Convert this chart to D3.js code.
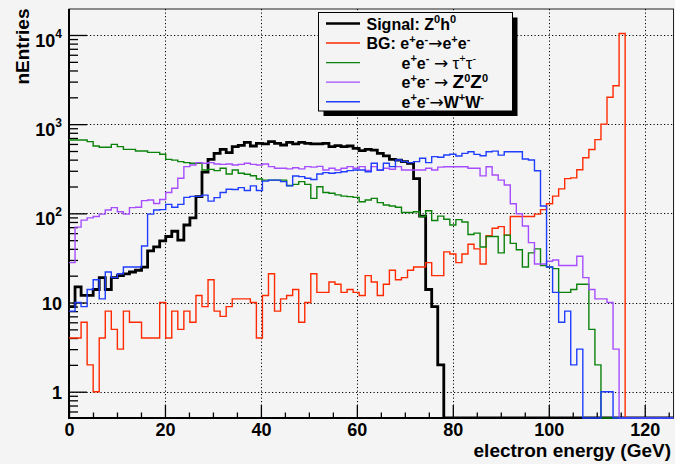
<!DOCTYPE html>
<html>
<head>
<meta charset="utf-8">
<script src="https://cdn.jsdelivr.net/npm/d3@7"></script>
<style>
  html, body { margin: 0; padding: 0; background: #f4f4f4; }
  svg { display: block; }
</style>
</head>
<body>
<script>
// Histogram binning: 100 bins over 0-126 GeV
const binLow = 0;
const binHigh = 126;
const nBins = 100;

// Bin contents (entries per bin)
const signalZh = [
  9, 15, 12, 12, 14, 19, 14, 19, 20, 21,
  22, 23, 25, 38, 42, 49, 55, 63, 50, 74,
  89, 154, 290, 403, 471, 522, 480, 560, 579, 626,
  569, 610, 600, 637, 610, 584, 626, 600, 626, 610,
  600, 600, 610, 560, 576, 560, 569, 536, 505, 522,
  512, 471, 440, 403, 396, 380, 364, 245, 93, 14,
  9, 2, 0, 0, 0, 0, 0, 0, 0, 0,
  0, 0, 0, 0, 0, 0, 0, 0, 0, 0,
  0, 0, 0, 0, 0, 0, 0, 0, 0, 0,
  0, 0, 0, 0, 0, 0, 0, 0, 0, 0
];
const bgEE = [
  4, 4, 6, 2, 1, 4, 8, 5, 3, 8,
  6, 6, 4, 4, 4, 10, 4, 8, 5, 8,
  6, 12, 9, 18, 8, 7, 9, 11, 11, 11,
  10, 4, 12, 21, 8, 11, 12, 14, 6, 10,
  21, 13, 13, 17, 16, 13, 14, 13, 12, 20,
  17, 12, 16, 23, 18, 19, 23, 25, 25, 28,
  20, 20, 37, 35, 28, 35, 45, 40, 27, 56,
  68, 71, 57, 92, 92, 92, 92, 98, 110, 128,
  156, 188, 245, 250, 308, 420, 520, 670, 1000, 2000,
  2700, 10400, 0, 0, 0, 0, 0, 0, 0, 0
];
const bgTauTau = [
  664, 664, 664, 637, 569, 550, 550, 594, 560, 522,
  522, 500, 500, 483, 483, 459, 403, 395, 380, 370,
  364, 364, 306, 311, 301, 320, 276, 306, 281, 274,
  264, 243, 236, 236, 236, 236, 205, 211, 227, 211,
  147, 199, 171, 168, 161, 156, 154, 151, 135, 141,
  147, 132, 124, 121, 117, 102, 102, 104, 92, 107,
  83, 93, 86, 74, 85, 80, 58, 60, 42, 55,
  55, 36, 57, 46, 39, 25, 36, 40, 26, 25,
  24, 13, 13, 14, 16, 16, 5, 2, 0, 0,
  0, 0, 0, 0, 0, 0, 0, 0, 0, 0
];
const bgZZ = [
  28, 70, 84, 89, 92, 98, 109, 116, 104, 98,
  116, 117, 139, 141, 129, 143, 171, 191, 247, 334,
  348, 370, 364, 370, 357, 354, 357, 348, 354, 364,
  354, 348, 357, 334, 320, 320, 315, 325, 315, 334,
  330, 336, 306, 320, 306, 320, 334, 320, 334, 303,
  334, 303, 320, 312, 334, 306, 306, 306, 306, 320,
  306, 330, 333, 333, 333, 333, 320, 320, 263, 333,
  269, 236, 208, 128, 99, 72, 47, 27, 27, 29,
  30, 26, 26, 26, 33, 19, 14, 11, 11, 10,
  3, 0, 0, 0, 0, 0, 0, 0, 0, 0
];
const bgWW = [
  8, 10, 9, 14, 18, 11, 22, 19, 21, 25,
  25, 25, 43, 98, 109, 110, 126, 117, 126, 151,
  155, 155, 160, 137, 150, 171, 186, 185, 194, 180,
  203, 180, 230, 236, 236, 227, 203, 262, 258, 247,
  240, 276, 286, 281, 286, 293, 301, 306, 306, 293,
  364, 306, 364, 334, 396, 380, 370, 380, 414, 370,
  432, 425, 451, 460, 440, 470, 491, 458, 442, 491,
  499, 450, 491, 491, 491, 406, 396, 300, 121, 25,
  13, 6, 8, 2, 3, 0, 0, 0, 1, 1,
  0, 0, 0, 0, 0, 0, 0, 0, 0, 0
];

// Axis ticks and labels
const xMajorTicks = [0, 20, 40, 60, 80, 100, 120];
const yMajorTicks = [1, 10, 100, 1000, 10000];
const yTickBase = ["1", "10", "10", "10", "10"];
const yTickExp = ["", "", "2", "3", "4"];
const xTitle = "electron energy (GeV)";
const yTitle = "nEntries";

const W = 675, H = 464;
const plot = { left: 69, right: 673.5, top: 9, bottom: 418 };
const font = "'Liberation Sans', Arial, Helvetica, sans-serif";
const symbolFont = "'DejaVu Sans', 'Liberation Sans', sans-serif";

const x = d3.scaleLinear().domain([binLow, binHigh]).range([plot.left, plot.right]);
const y = d3.scaleLog().domain([0.507, 19560]).range([plot.bottom, plot.top]);
const binWidth = (binHigh - binLow) / nBins;

const svg = d3.select("body").append("svg")
  .attr("width", W).attr("height", H)
  .attr("font-family", font);

svg.append("rect").attr("width", W).attr("height", H).attr("fill", "#f4f4f4");

// frame
svg.append("rect")
  .attr("x", plot.left).attr("y", plot.top)
  .attr("width", plot.right - plot.left).attr("height", plot.bottom - plot.top)
  .attr("fill", "#f4f4f4").attr("stroke", "#222").attr("stroke-width", 1);

// dotted grid
const grid = svg.append("g").attr("stroke", "#000").attr("stroke-width", 1)
  .attr("stroke-dasharray", "1.2,2.3").attr("fill", "none");
grid.selectAll("line.gx").data(xMajorTicks.filter(d => d > 0)).join("line")
  .attr("x1", d => Math.round(x(d)) + 0.5).attr("x2", d => Math.round(x(d)) + 0.5)
  .attr("y1", plot.top).attr("y2", plot.bottom);
grid.selectAll("line.gy").data(yMajorTicks).join("line")
  .attr("y1", d => Math.round(y(d)) + 0.5).attr("y2", d => Math.round(y(d)) + 0.5)
  .attr("x1", plot.left).attr("x2", plot.right);

// x axis: major + minor ticks pointing into the frame
const xMinor = d3.range(5, 126, 5).filter(v => v % 20 !== 0);
const gxMinor = svg.append("g").attr("transform", `translate(0,${plot.bottom})`)
  .call(d3.axisBottom(x).tickValues(xMinor).tickSize(-5.5).tickFormat(""));
const gx = svg.append("g").attr("transform", `translate(0,${plot.bottom})`)
  .call(d3.axisBottom(x).tickValues(xMajorTicks).tickSize(-13).tickPadding(5)
        .tickFormat(d3.format("d")));
[gx, gxMinor].forEach(g => {
  g.select(".domain").remove();
  g.selectAll("line").attr("stroke", "#000").attr("stroke-width", 1.3);
});
gx.selectAll("text").attr("font-size", 18).attr("font-weight", "bold")
  .attr("fill", "#000").attr("font-family", font);

// y axis: decade ticks + minor ticks
const yMinor = [];
for (let e = -1; e <= 4; e++) {
  for (let m = 2; m <= 9; m++) {
    const v = m * Math.pow(10, e);
    if (v > 0.507 && v < 19560) yMinor.push(v);
  }
}
const gyMinor = svg.append("g").attr("transform", `translate(${plot.left},0)`)
  .call(d3.axisLeft(y).tickValues(yMinor).tickSize(-9).tickFormat(""));
const gy = svg.append("g").attr("transform", `translate(${plot.left},0)`)
  .call(d3.axisLeft(y).tickValues(yMajorTicks).tickSize(-18).tickFormat(""));
[gy, gyMinor].forEach(g => {
  g.select(".domain").remove();
  g.selectAll("line").attr("stroke", "#000").attr("stroke-width", 1.3);
});

// y tick labels with exponents
yMajorTicks.forEach((v, i) => {
  const hasExp = yTickExp[i] !== "";
  const t = svg.append("text")
    .attr("x", 62).attr("y", y(v) + (hasExp ? 12 : 7.5))
    .attr("text-anchor", "end").attr("font-weight", "bold")
    .attr("font-size", 18).attr("fill", "#000");
  t.append("tspan").text(yTickBase[i]);
  if (hasExp) t.append("tspan").attr("dy", -9).attr("font-size", 12).text(yTickExp[i]);
});

// axis lines
svg.append("line").attr("x1", plot.left).attr("x2", plot.left)
  .attr("y1", plot.top).attr("y2", plot.bottom + 1)
  .attr("stroke", "#000").attr("stroke-width", 2);
svg.append("line").attr("x1", plot.left - 1).attr("x2", plot.right)
  .attr("y1", plot.bottom).attr("y2", plot.bottom)
  .attr("stroke", "#000").attr("stroke-width", 2);

// axis titles
svg.append("text")
  .attr("transform", `translate(29,8.5) rotate(-90)`)
  .attr("text-anchor", "end").attr("font-weight", "bold")
  .attr("font-size", 19).attr("fill", "#000").text(yTitle);
svg.append("text")
  .attr("x", 671).attr("y", 457)
  .attr("text-anchor", "end").attr("font-weight", "bold")
  .attr("font-size", 19).attr("fill", "#000").text(xTitle);

// histograms
svg.append("clipPath").attr("id", "plotClip").append("rect")
  .attr("x", plot.left).attr("y", plot.top - 1)
  .attr("width", plot.right - plot.left).attr("height", plot.bottom - plot.top + 2);

const yv = v => v > 0 ? y(v) : plot.bottom;
const stepLine = d3.line()
  .x(d => x(d[0]))
  .y(d => yv(d[1]))
  .curve(d3.curveStepAfter);

function histPoints(values) {
  const pts = values.map((v, i) => [binLow + i * binWidth, v]);
  pts.push([binHigh, values[values.length - 1]]);
  return pts;
}

const series = [
  { name: "Signal: Z0h0", values: signalZh, color: "#000000", width: 2.8 },
  { name: "BG: ee", values: bgEE, color: "#ff2a00", width: 1.4 },
  { name: "tautau", values: bgTauTau, color: "#0b820b", width: 1.4 },
  { name: "ZZ", values: bgZZ, color: "#a64dff", width: 1.4 },
  { name: "WW", values: bgWW, color: "#1f3dff", width: 1.4 }
];

const hg = svg.append("g").attr("clip-path", "url(#plotClip)");
series.forEach(s => {
  hg.append("path")
    .attr("d", stepLine(histPoints(s.values)))
    .attr("fill", "none")
    .attr("stroke", s.color)
    .attr("stroke-width", s.width)
    .attr("stroke-linejoin", "miter");
});

// legend
const leg = { x: 318.5, y: 12.5, w: 194, h: 98.5 };
svg.append("rect").attr("x", leg.x + 5).attr("y", leg.y + 5)
  .attr("width", leg.w).attr("height", leg.h).attr("fill", "#000");
svg.append("rect").attr("x", leg.x).attr("y", leg.y)
  .attr("width", leg.w).attr("height", leg.h)
  .attr("fill", "#f4f4f4").attr("stroke", "#000").attr("stroke-width", 1);

const arrow = { t: "\u2192", w: "normal", f: symbolFont, fs: 17 };
const legendLabels = [
  [{ t: "Signal: Z" }, { t: "0", sup: true }, { t: "h" }, { t: "0", sup: true }],
  [{ t: "BG: e" }, { t: "+", sup: true }, { t: "e" }, { t: "-", sup: true },
   arrow, { t: "e" }, { t: "+", sup: true }, { t: "e" }, { t: "-", sup: true }],
  [{ t: "e" }, { t: "+", sup: true }, { t: "e" }, { t: "-", sup: true },
   { t: " " }, arrow, { t: " " },
   { t: "\u03c4", w: "normal", fs: 17 }, { t: "+", sup: true, w: "normal" },
   { t: "\u03c4", w: "normal", fs: 17 }, { t: "-", sup: true, w: "normal" }],
  [{ t: "e" }, { t: "+", sup: true }, { t: "e" }, { t: "-", sup: true },
   { t: " " }, arrow, { t: " " },
   { t: "Z", fs: 19 }, { t: "0", sup: true }, { t: "Z", fs: 19 }, { t: "0", sup: true }],
  [{ t: "e" }, { t: "+", sup: true }, { t: "e" }, { t: "-", sup: true },
   arrow, { t: "W" }, { t: "+", sup: true }, { t: "W" }, { t: "-", sup: true }]
];
const legendTextX = [366.5, 366.5, 401.5, 401.5, 401.5];

series.forEach((s, i) => {
  const cy = 23.5 + i * 19.55;
  svg.append("line").attr("x1", 326).attr("x2", 360)
    .attr("y1", cy).attr("y2", cy)
    .attr("stroke", s.color).attr("stroke-width", s.width === 2.8 ? 2.4 : 1.4);
  const t = svg.append("text").attr("x", legendTextX[i]).attr("y", cy + 6)
    .attr("font-size", 16).attr("font-weight", "bold").attr("fill", "#000");
  let shift = 0;
  legendLabels[i].forEach(p => {
    const ts = t.append("tspan").text(p.t);
    const target = p.sup ? -6.5 : 0;
    if (target !== shift) { ts.attr("dy", target - shift); shift = target; }
    if (p.sup) ts.attr("font-size", 11);
    if (p.fs) ts.attr("font-size", p.fs);
    if (p.w) ts.attr("font-weight", p.w);
    if (p.f) ts.attr("font-family", p.f);
  });
});
</script>
</body>
</html>
